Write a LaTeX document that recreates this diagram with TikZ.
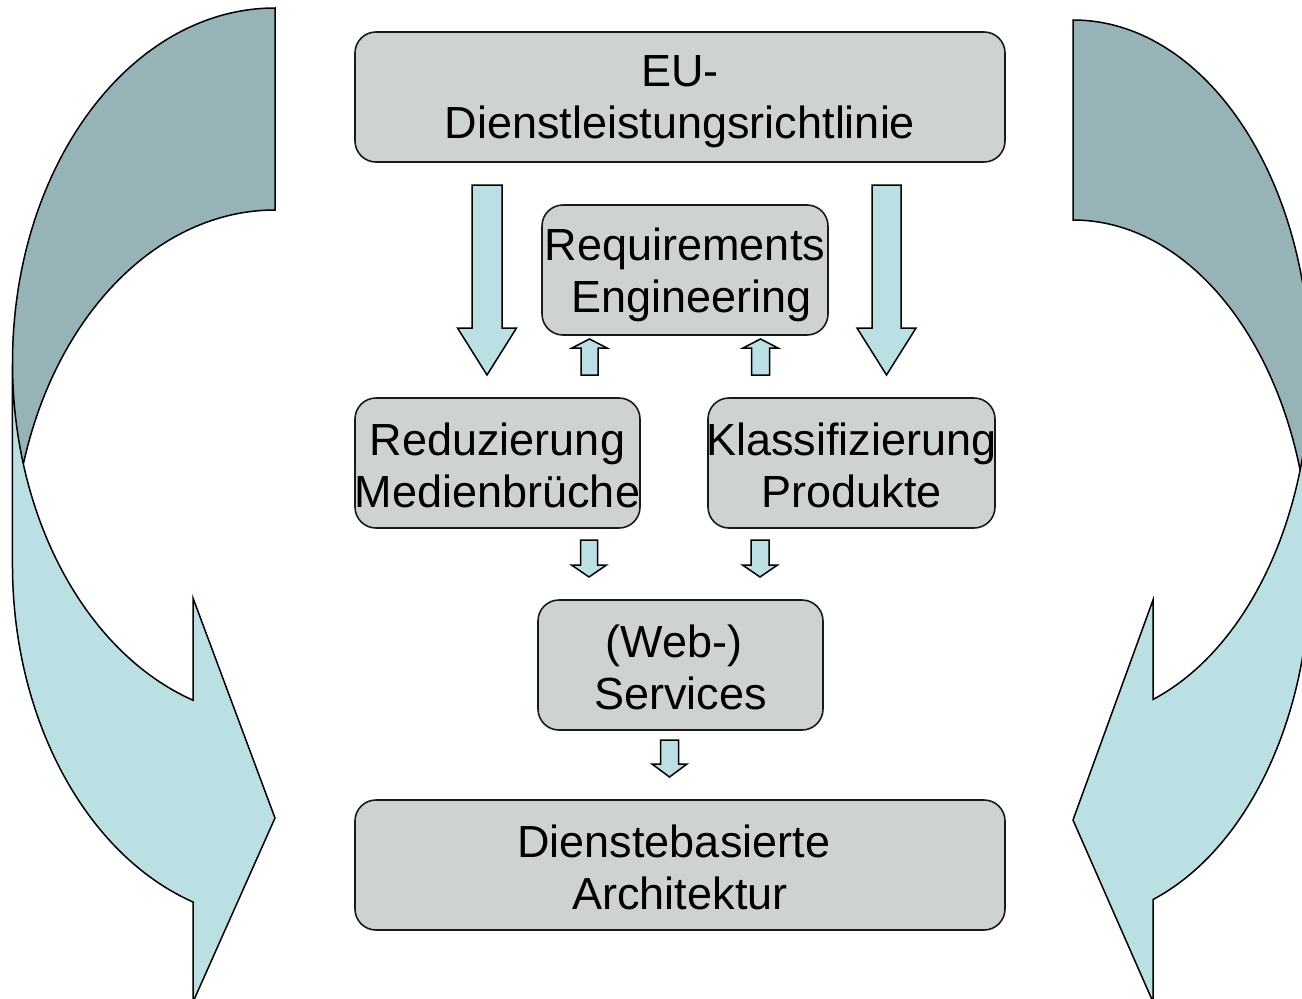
\documentclass[tikz,border=0pt]{standalone}
\usepackage{fontspec}
\setmainfont{Liberation Sans}
\definecolor{boxgray}{RGB}{206,210,211}
\definecolor{paleteal}{RGB}{186,224,227}
\definecolor{shadeteal}{RGB}{150,179,183}

% block arrow: centre x, tail y, head base y, tip y, shaft half width, head half width
\newcommand\blockarrow[6]{%
  \draw[blk] ({#1-#5},-#2) -- ({#1+#5},-#2) -- ({#1+#5},-#3) -- ({#1+#6},-#3)
    -- (#1,-#4) -- ({#1-#6},-#3) -- ({#1-#5},-#3) -- cycle;}

\begin{document}
\begin{tikzpicture}[x=1pt,y=1pt,
  box/.style={draw=black!90, line width=1.6pt, fill=boxgray, rounded corners=21pt,
    inner sep=0pt, minimum height=130pt},
  boxtext/.style={inner sep=0pt, align=center, font=\fontsize{45}{52}\selectfont},
  blk/.style={draw=black, line width=1.5pt, fill=paleteal, line join=miter},
  outl/.style={draw=black, line width=1.5pt, line join=miter},
  elA/.style={x radius=262.5, y radius=355},
  elB/.style={x radius=237, y radius=350}]
\useasboundingbox (0,0) rectangle (1302,-999);
\clip (0,0) rectangle (1302,-999);

% left curved arrow
\fill[paleteal] (12.5,-363) arc[start angle=180, end angle=251.8, elA]
  -- (193,-598) -- (275,-818) -- (193,-1002) -- (193,-902)
  arc[start angle=251.8, end angle=180, elA] -- cycle;
\fill[shadeteal] (275,-8) arc[start angle=90, end angle=196.53, elA]
  arc[start angle=163.47, end angle=90, elA] -- cycle;
\draw[outl] (12.5,-363) arc[start angle=180, end angle=251.8, elA]
  -- (193,-598) -- (275,-818) -- (193,-1002) -- (193,-902)
  arc[start angle=251.8, end angle=180, elA] -- (12.5,-363)
  arc[start angle=180, end angle=90, elA] -- (275,-210)
  arc[start angle=90, end angle=163.47, elA];

% right curved arrow
\fill[paleteal] (1310,-370) arc[start angle=0, end angle=-70.27, elB]
  -- (1153,-600) -- (1073,-820) -- (1153,-1002) -- (1153,-899.5)
  arc[start angle=-70.27, end angle=0, elB] -- cycle;
\fill[shadeteal] (1073,-20) arc[start angle=90, end angle=-16.6, elB]
  arc[start angle=16.6, end angle=90, elB] -- cycle;
\draw[outl] (1310,-370) arc[start angle=0, end angle=-70.27, elB]
  -- (1153,-600) -- (1073,-820) -- (1153,-1002) -- (1153,-899.5)
  arc[start angle=-70.27, end angle=0, elB] -- (1310,-370)
  arc[start angle=0, end angle=90, elB] -- (1073,-220)
  arc[start angle=90, end angle=16.6, elB];

% boxes and their labels
\node[box, minimum width=650pt] (eu) at (680,-97) {};
\node[boxtext] (eutext) at ([yshift=-5pt]eu.center) {EU-\\Dienstleistungsrichtlinie};
\node[box, minimum width=286pt] (req) at (685,-270) {};
\node[boxtext] (reqtext) at ([yshift=-5pt]req.center) {Requirements\\\kern0.3em Engineering};
\node[box, minimum width=285pt] (red) at (497.5,-463) {};
\node[boxtext] (redtext) at ([yshift=-2pt]red.center) {Reduzierung\\Medienbrüche};
\node[box, minimum width=287pt] (kla) at (851.5,-463) {};
\node[boxtext] (klatext) at ([yshift=-2pt]kla.center) {Klassifizierung\\Produkte};
\node[box, minimum width=285pt] (web) at (680.5,-665) {};
\node[boxtext] (webtext) at ([yshift=-2pt]web.center) {(Web-)\kern0.278em\\Services};
\node[box, minimum width=650pt] (arch) at (680,-865) {};
\node[boxtext] (archtext) at ([yshift=-2pt]arch.center) {Dienstebasierte\kern0.278em\\Architektur};

% block arrows
\blockarrow{487}{185}{328}{375}{15}{29.5}
\blockarrow{886.5}{185}{328}{375}{14.5}{29.5}
\blockarrow{589.5}{375}{348}{339}{8.5}{17.5}
\blockarrow{760.5}{375}{348}{339}{9}{17.5}
\blockarrow{589}{540}{565}{577}{8.5}{17.5}
\blockarrow{760}{540}{565}{577}{9}{17.5}
\blockarrow{669.5}{740}{764}{777}{9}{17.5}
\end{tikzpicture}
\end{document}
